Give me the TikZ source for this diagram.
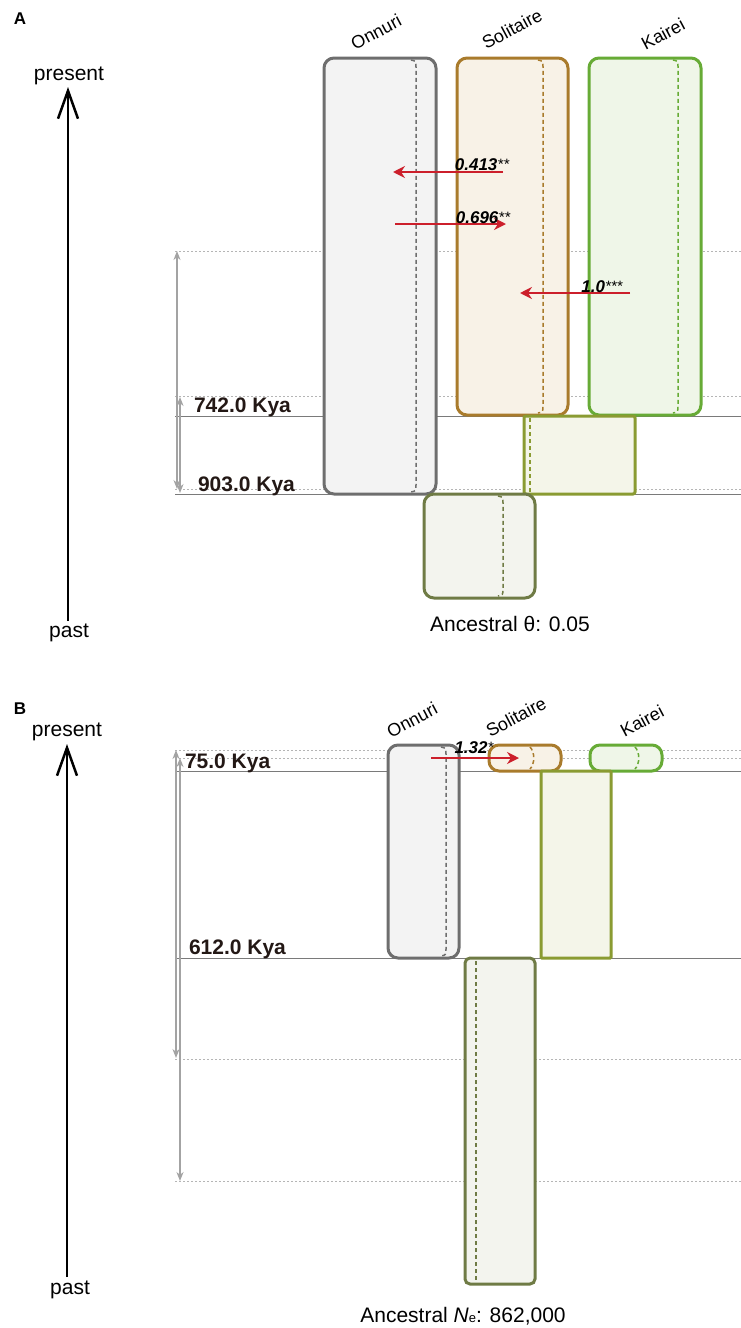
\documentclass[tikz,border=0pt]{standalone}
\usepackage{fontspec}
\setmainfont{Liberation Sans}
\usetikzlibrary{arrows.meta}
\definecolor{gStroke}{HTML}{6E6E6E}
\definecolor{gFill}{HTML}{F3F3F3}
\definecolor{bStroke}{HTML}{A97B2C}
\definecolor{bFill}{HTML}{F8F2E7}
\definecolor{kStroke}{HTML}{67AB36}
\definecolor{kFill}{HTML}{EFF6E8}
\definecolor{oStroke}{HTML}{8A9B32}
\definecolor{oFill}{HTML}{F4F5E9}
\definecolor{rStroke}{HTML}{6F7B45}
\definecolor{rFill}{HTML}{F3F4EE}
\definecolor{migRed}{HTML}{CC1F2B}
\definecolor{scaleGray}{HTML}{A3A3A3}
\definecolor{lineGray}{HTML}{7A7A7A}
\definecolor{dotGray}{HTML}{B5B5B5}
\definecolor{kyaText}{HTML}{231815}
\tikzset{
  popbox/.style={draw, line width=3pt, rounded corners=10pt, anchor=north west},
  indash/.style={line width=1.5pt, dash pattern=on 4pt off 3pt},
  dotline/.style={dotGray, line width=1pt, dash pattern=on 2pt off 2pt},
  solidline/.style={lineGray, line width=1pt},
  scalearr/.style={scaleGray, line width=2pt, {Stealth[length=9pt,width=7pt]}-{Stealth[length=9pt,width=7pt]}},
  timearr/.style={black, line width=1.5pt, -{Straight Barb[length=28pt,width=20pt,line width=2.5pt]}},
  mig/.style={migRed, line width=2.5pt, -{Stealth[length=12pt,width=12pt,inset=4pt]}},
  poplab/.style={font=\fontsize{18}{20}\selectfont, rotate=28},
  kya/.style={font=\bfseries\fontsize{21}{24}\selectfont, text=kyaText, anchor=west},
  big/.style={font=\fontsize{21}{24}\selectfont},
  miglab/.style={font=\fontsize{17}{19}\selectfont},
  panlab/.style={font=\bfseries\fontsize{17}{19}\selectfont},
}
\newcommand{\mlab}[2]{{\bfseries\itshape #1}{\itshape\fontsize{15}{15}\selectfont\raisebox{1pt}{#2}}}
\begin{document}
\begin{tikzpicture}[x=1pt,y=-1pt, every node/.style={inner sep=0pt, outer sep=0pt}]
\useasboundingbox (0,0) rectangle (741,1328);

% ================= Panel A =================
\node[panlab] (labA) at (20,19) {A};
\node[big] (presA) at (69,76) {present};
\node[big] (pastA) at (69,633) {past};
\coordinate (tAb) at (68,621);
\coordinate (tAt) at (68,87);
\draw[timearr] (tAb) -- (tAt);

% horizontal reference lines
\draw[dotline] (175,251) -- (741,251);
\draw[dotline] (175,396) -- (741,396);
\draw[solidline] (175,416) -- (741,416);
\draw[dotline] (175,489) -- (741,489);
\draw[solidline] (175,494) -- (741,494);

% scale arrows
\coordinate (sA1t) at (177,251);
\coordinate (sA1b) at (177,489);
\coordinate (sA2t) at (180,397);
\coordinate (sA2b) at (180,493);
\draw[scalearr] (sA1t) -- (sA1b);
\draw[scalearr] (sA2t) -- (sA2b);

\node[kya] (kya742) at (194,407) {742.0 Kya};
\node[kya] (kya903) at (198,486) {903.0 Kya};

% population boxes
\node[popbox, draw=gStroke, fill=gFill, minimum width=112pt, minimum height=436pt] (OnA) at (324,58) {};
\node[popbox, draw=bStroke, fill=bFill, minimum width=111pt, minimum height=357pt] (SoA) at (457,58) {};
\node[popbox, draw=kStroke, fill=kFill, minimum width=112pt, minimum height=357pt] (KaA) at (589,58) {};
\node[popbox, draw=oStroke, fill=oFill, rounded corners=2pt, minimum width=111pt, minimum height=78pt] (SKA) at (524,416) {};
\node[popbox, draw=rStroke, fill=rFill, minimum width=111pt, minimum height=104pt] (RtA) at (424,494) {};

\draw[indash, gStroke] (411,60) .. controls (416,61) .. (416,68) -- (416,484) .. controls (416,491) .. (411,492);
\draw[indash, bStroke] (538,60) .. controls (543,61) .. (543,68) -- (543,405) .. controls (543,412) .. (538,413);
\draw[indash, kStroke] (673,60) .. controls (678,61) .. (678,68) -- (678,405) .. controls (678,412) .. (673,413);
\draw[indash, oStroke] (530,418) -- (530,493);
\draw[indash, rStroke] (498,496) .. controls (503,497) .. (503,504) -- (503,588) .. controls (503,595) .. (498,596);

\node[poplab] (nOnA) at (376,32) {Onnuri};
\node[poplab] (nSoA) at (512,29) {Solitaire};
\node[poplab] (nKaA) at (663,34) {Kairei};

% migration arrows
\coordinate (m1s) at (503,172);
\coordinate (m1e) at (393,172);
\coordinate (m2s) at (395,224);
\coordinate (m2e) at (506,224);
\coordinate (m3s) at (630,293);
\coordinate (m3e) at (520,293);
\draw[mig] (m1s) -- (m1e);
\draw[mig] (m2s) -- (m2e);
\draw[mig] (m3s) -- (m3e);
\node[miglab] (l1) at (482,165) {\mlab{0.413}{**}};
\node[miglab] (l2) at (483,218) {\mlab{0.696}{**}};
\node[miglab] (l3) at (602,287) {\mlab{1.0}{***}};

\node[big] (ancA) at (510,624) {Ancestral θ: 0.05};

% ================= Panel B =================
\node[panlab] (labB) at (20,709) {B};
\node[big] (presB) at (67,732) {present};
\node[big] (pastB) at (70,1290) {past};
\coordinate (tBb) at (67,1277);
\coordinate (tBt) at (67,744);
\draw[timearr] (tBb) -- (tBt);

\draw[dotline] (175,750) -- (741,750);
\draw[dotline] (175,758) -- (741,758);
\draw[solidline] (175,771) -- (741,771);
\draw[solidline] (175,958) -- (741,958);
\draw[dotline] (175,1059) -- (741,1059);
\draw[dotline] (175,1181) -- (741,1181);

\coordinate (sB1t) at (176,750);
\coordinate (sB1b) at (176,1058);
\coordinate (sB2t) at (180,758);
\coordinate (sB2b) at (180,1181);
\draw[scalearr] (sB1t) -- (sB1b);
\draw[scalearr] (sB2t) -- (sB2b);

\node[kya] (kya75) at (185,763) {75.0 Kya};
\node[kya] (kya612) at (189,949) {612.0 Kya};

\node[popbox, draw=gStroke, fill=gFill, minimum width=71pt, minimum height=213pt] (OnB) at (388,745) {};
\node[popbox, draw=bStroke, fill=bFill, minimum width=72pt, minimum height=26pt] (SoB) at (489,745) {};
\node[popbox, draw=kStroke, fill=kFill, minimum width=72pt, minimum height=26pt] (KaB) at (590,745) {};
\node[popbox, draw=oStroke, fill=oFill, rounded corners=1pt, minimum width=70pt, minimum height=187pt] (SKB) at (541,771) {};
\node[popbox, draw=rStroke, fill=rFill, rounded corners=5pt, minimum width=70pt, minimum height=326pt] (RtB) at (465,958) {};

\draw[indash, gStroke] (441,747) .. controls (446,748) .. (446,755) -- (446,948) .. controls (446,955) .. (441,956);
\draw[indash, bStroke] (530,747) .. controls (535,752) and (535,764) .. (530,769);
\draw[indash, kStroke] (635,747) .. controls (640,752) and (640,764) .. (635,769);
\draw[indash, rStroke] (476,961) -- (476,1282);

\node[poplab] (nOnB) at (412,720) {Onnuri};
\node[poplab] (nSoB) at (516,717) {Solitaire};
\node[poplab] (nKaB) at (642,721) {Kairei};

\coordinate (m4s) at (431,758);
\coordinate (m4e) at (519,758);
\draw[mig] (m4s) -- (m4e);
\node[miglab] (l4) at (474,748) {\mlab{1.32}{*}};

\node[big] (ancB) at (463,1316) {Ancestral \textit{N}{\fontsize{13}{13}\selectfont e}: 862,000};
\end{tikzpicture}
\end{document}
